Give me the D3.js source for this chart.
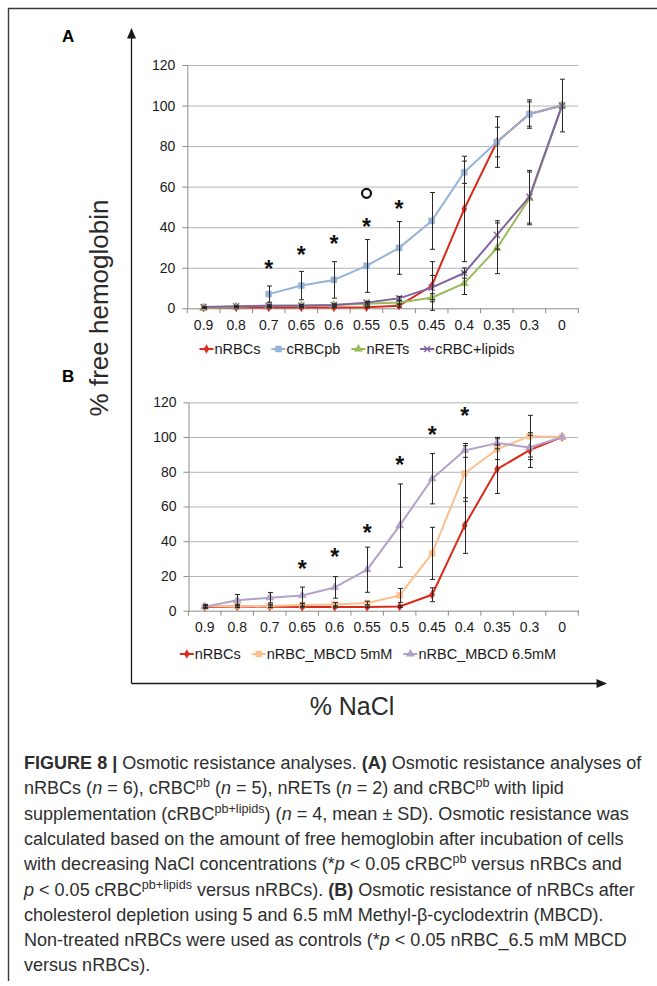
<!DOCTYPE html>
<html>
<head>
<meta charset="UTF-8">
<title>Osmotic resistance</title>
<script src="https://cdnjs.cloudflare.com/ajax/libs/d3/7.8.5/d3.min.js"></script>
<style>
  body { margin: 0; background: #fff; }
  svg { display: block; font-family: "Liberation Sans", Arial, sans-serif; }
  .tick text { fill: #1a1a1a; }
</style>
</head>
<body>
<svg id="fig" width="657" height="986"></svg>
<script>
// ---- data ----
const nacl = ['0.9', '0.8', '0.7', '0.65', '0.6', '0.55', '0.5', '0.45', '0.4', '0.35', '0.3', '0'];
const yTicks = [0, 20, 40, 60, 80, 100, 120];

// panel A
const nRBCsA      = [0.3, 0.4, 0.4, 0.4, 0.4, 0.5, 1.3, 11, 49, 82, 95.8, 100];
const nRBCsAErr   = [0.2, 0.2, 0.2, 0.2, 0.2, 0.3, 0.8, 12, 26, 7.3, 6, 0];
const cRBCpbA     = [null, null, 7, 11.2, 14, 20.9, 29.8, 43.1, 67.1, 82, 95.8, 100];
const cRBCpbAErr  = [null, null, 4, 7, 9, 13, 13, 14, 5.5, 12.5, 7, 13];
const nRETsA      = [0.2, 0.8, 1.3, 1.4, 1.6, 2.2, 2.9, 5.2, 12.3, 29.6, 54.2, 100];
const nRETsAErr   = [0.2, 0.3, 0.4, 0.4, 0.5, 0.6, 0.8, 2, 5.5, 12.5, 13, 0];
const lipidsA     = [0.6, 1.0, 1.2, 1.3, 1.6, 2.8, 4.9, 10.2, 17.4, 36.2, 55, 100];
const lipidsAErr  = [0.2, 0.3, 0.4, 0.4, 0.5, 0.6, 1, 6, 2.5, 7, 13, 0];
const starsA      = [['0.7', 22.2], ['0.65', 28.8], ['0.6', 34.2], ['0.55', 42.7], ['0.5', 51.8]];
const circlesA    = [['0.55', 56.7]];

// panel B
const nRBCsB      = [2.2, 2.4, 2.3, 2.2, 2.2, 2.2, 2.4, 9.2, 49, 81.5, 92.5, 100];
const nRBCsBErr   = [0.5, 0.5, 0.5, 0.5, 0.5, 0.5, 0.5, 4, 16, 14, 10, 0];
const mbcd5B      = [2.5, 2.7, 2.7, 3.3, 3.6, 4.4, 8.8, 33, 79, 93, 100.5, 100];
const mbcd5BErr   = [1, 1, 1, 1, 1, 1, 4, 15, 16, 6, 12, 0];
const mbcd65B     = [2.3, 6, 7.5, 8.8, 13.4, 23.6, 49, 76, 92.3, 96.5, 94, 100];
const mbcd65BErr  = [0.8, 3.3, 3, 4.8, 6.2, 13, 24, 14.5, 4, 3.3, 7, 0];
const starsB      = [['0.65', 27.3], ['0.6', 34], ['0.55', 47.8], ['0.5', 86.8], ['0.45', 104.6], ['0.4', 115]];

const captionLines = [
  [['FIGURE 8 |', 'b'], [' Osmotic resistance analyses. ', ''], ['(A)', 'b'], [' Osmotic resistance analyses of', '']],
  [['nRBCs (', ''], ['n', 'i'], [' = 6), cRBC', ''], ['pb', 'sup'], [' (', ''], ['n', 'i'], [' = 5), nRETs (', ''], ['n', 'i'], [' = 2) and cRBC', ''], ['pb', 'sup'], [' with lipid', '']],
  [['supplementation (cRBC', ''], ['pb+lipids', 'sup'], [') (', ''], ['n', 'i'], [' = 4, mean \u00b1 SD). Osmotic resistance was', '']],
  [['calculated based on the amount of free hemoglobin after incubation of cells', '']],
  [['with decreasing NaCl concentrations (*', ''], ['p', 'i'], [' < 0.05 cRBC', ''], ['pb', 'sup'], [' versus nRBCs and', '']],
  [['p', 'i'], [' < 0.05 cRBC', ''], ['pb+lipids', 'sup'], [' versus nRBCs). ', ''], ['(B)', 'b'], [' Osmotic resistance of nRBCs after', '']],
  [['cholesterol depletion using 5 and 6.5 mM Methyl-\u03b2-cyclodextrin (MBCD).', '']],
  [['Non-treated nRBCs were used as controls (*', ''], ['p', 'i'], [' < 0.05 nRBC_6.5 mM MBCD', '']],
  [['versus nRBCs).', '']]
];

// ---- series setup ----
const panels = [
  {
    label: 'A', labelY: 42,
    xl: 187.3, xr: 578.3, y0: 308.3, yTop: 65,
    legendY: 349, legendCx: 357,
    series: [
      { name: 'nRBCs', values: nRBCsA, err: nRBCsAErr, color: '#d92a1c', marker: 'diamond' },
      { name: 'cRBCpb', values: cRBCpbA, err: cRBCpbAErr, color: '#95b3d7', marker: 'square' },
      { name: 'nRETs', values: nRETsA, err: nRETsAErr, color: '#9bbb59', marker: 'triangle' },
      { name: 'cRBC+lipids', values: lipidsA, err: lipidsAErr, color: '#8064a2', marker: 'x' }
    ],
    stars: starsA, circles: circlesA
  },
  {
    label: 'B', labelY: 382,
    xl: 188.5, xr: 578.3, y0: 610.7, yTop: 402.3,
    legendY: 654, legendCx: 368,
    series: [
      { name: 'nRBCs', values: nRBCsB, err: nRBCsBErr, color: '#d92a1c', marker: 'diamond' },
      { name: 'nRBC_MBCD 5mM', values: mbcd5B, err: mbcd5BErr, color: '#fac08f', marker: 'square' },
      { name: 'nRBC_MBCD 6.5mM', values: mbcd65B, err: mbcd65BErr, color: '#b3a2c7', marker: 'triangle' }
    ],
    stars: starsB, circles: []
  }
];

const svg = d3.select('#fig');

// outer frame (top and left edges)
svg.append('path')
  .attr('d', 'M8.5,981 V8.5 H657')
  .attr('fill', 'none').attr('stroke', '#3a3a3a').attr('stroke-width', 1.4);

// big axes with arrows
const axX = 131.5, axBottom = 683.5;
svg.append('path')
  .attr('d', `M${axX},${axBottom} V37 M${axX},${axBottom} H598`)
  .attr('fill', 'none').attr('stroke', '#1a1a1a').attr('stroke-width', 1.3);
svg.append('path').attr('d', `M${axX},28 L${axX - 4.5},38.5 L${axX + 4.5},38.5 Z`).attr('fill', '#1a1a1a');
svg.append('path').attr('d', `M607,${axBottom} L596.5,${axBottom - 4.5} L596.5,${axBottom + 4.5} Z`).attr('fill', '#1a1a1a');

svg.append('text')
  .attr('transform', 'translate(108,308) rotate(-90)')
  .attr('text-anchor', 'middle')
  .style('font-size', '26px').attr('fill', '#2a2a2a')
  .text('% free hemoglobin');
svg.append('text')
  .attr('x', 352).attr('y', 715)
  .attr('text-anchor', 'middle')
  .style('font-size', '25px').attr('fill', '#2a2a2a')
  .text('% NaCl');

function markerPath(type) {
  if (type === 'diamond') return d3.symbol(d3.symbolDiamond, 22)();
  if (type === 'square') return d3.symbol(d3.symbolSquare, 36)();
  if (type === 'triangle') return d3.symbol(d3.symbolTriangle, 28)();
  return d3.symbol(d3.symbolX, 26)();
}

function drawMarker(sel, s) {
  sel.attr('d', markerPath(s.marker))
    .attr('fill', s.marker === 'x' ? 'none' : s.color)
    .attr('stroke', s.color)
    .attr('stroke-width', s.marker === 'x' ? 1.4 : 0.5);
}

function drawPanel(p) {
  const g = svg.append('g');
  const x = d3.scaleBand().domain(nacl).range([p.xl, p.xr]);
  const cx = c => x(c) + x.bandwidth() / 2;
  const y = d3.scaleLinear().domain([0, 120]).range([p.y0, p.yTop]);

  g.append('text')
    .attr('x', 62).attr('y', p.labelY)
    .style('font-size', '17px').style('font-weight', 'bold')
    .text(p.label);

  // gridlines
  g.append('g').selectAll('line')
    .data(yTicks.filter(t => t > 0))
    .join('line')
    .attr('x1', p.xl).attr('x2', p.xr)
    .attr('y1', d => y(d) + 0.5).attr('y2', d => y(d) + 0.5)
    .attr('stroke', '#b4b4b4').attr('stroke-width', 1);

  // y axis
  const ya = g.append('g')
    .attr('transform', `translate(${p.xl},0)`)
    .call(d3.axisLeft(y).tickValues(yTicks).tickSize(5).tickPadding(7).tickSizeOuter(0));
  ya.select('.domain').attr('stroke', '#8c8c8c');
  ya.selectAll('.tick line').attr('stroke', '#8c8c8c');
  ya.selectAll('.tick text').style('font-size', '14px').style('font-family', '"Liberation Sans", Arial, sans-serif');

  // x axis: labels at band centres, ticks at band edges
  const xa = g.append('g')
    .attr('transform', `translate(0,${p.y0})`)
    .call(d3.axisBottom(x).tickSize(0).tickPadding(11.5));
  xa.select('.domain').attr('stroke', '#8c8c8c');
  xa.selectAll('.tick text').style('font-size', '14px').style('font-family', '"Liberation Sans", Arial, sans-serif');
  const edges = nacl.map(c => x(c)).concat([p.xr]);
  g.append('g').selectAll('line')
    .data(edges)
    .join('line')
    .attr('x1', d => d).attr('x2', d => d)
    .attr('y1', p.y0).attr('y2', p.y0 + 5)
    .attr('stroke', '#8c8c8c');

  // series lines and markers
  const line = d3.line()
    .defined(d => d.v != null)
    .x(d => cx(d.c)).y(d => y(d.v));
  p.series.forEach(s => {
    const pts = nacl.map((c, i) => ({ c, v: s.values[i], e: s.err[i] }));
    g.append('path')
      .datum(pts)
      .attr('d', line)
      .attr('fill', 'none').attr('stroke', s.color).attr('stroke-width', 2)
      .attr('stroke-linejoin', 'round');
    g.append('g').selectAll('path')
      .data(pts.filter(d => d.v != null))
      .join('path')
      .attr('transform', d => `translate(${cx(d.c)},${y(d.v)})`)
      .call(drawMarker, s);
  });

  // error bars
  p.series.forEach(s => {
    const pts = nacl.map((c, i) => ({ c, v: s.values[i], e: s.err[i] }))
      .filter(d => d.v != null && d.e);
    const eb = g.append('g').attr('stroke', '#262626').attr('stroke-width', 1).attr('fill', 'none');
    eb.selectAll('path')
      .data(pts)
      .join('path')
      .attr('d', d => {
        const xc = Math.round(cx(d.c)) + 0.5, hi = y(d.v + d.e), lo = y(d.v - d.e);
        return `M${xc},${hi}V${lo}M${xc - 2.5},${hi}H${xc + 2.5}M${xc - 2.5},${lo}H${xc + 2.5}`;
      });
  });

  // significance marks
  g.append('g').selectAll('text')
    .data(p.stars)
    .join('text')
    .attr('x', d => cx(d[0])).attr('y', d => y(d[1]) + 13.5)
    .attr('text-anchor', 'middle')
    .style('font-size', '23px').style('font-weight', 'bold').attr('fill', '#111')
    .text('*');
  g.append('g').selectAll('circle')
    .data(p.circles)
    .join('circle')
    .attr('cx', d => cx(d[0])).attr('cy', d => y(d[1]))
    .attr('r', 4.5)
    .attr('fill', 'none').attr('stroke', '#111').attr('stroke-width', 2.2);

  // legend
  const lg = g.append('g').attr('transform', `translate(0,${p.legendY})`);
  let cursor = 0;
  p.series.forEach(s => {
    const it = lg.append('g');
    it.append('line').attr('x1', 0).attr('x2', 14).attr('stroke', s.color).attr('stroke-width', 2);
    it.append('path').attr('transform', 'translate(7,0)').call(drawMarker, s);
    const t = it.append('text').attr('x', 15).attr('dy', '0.35em')
      .style('font-size', '14.5px').attr('fill', '#1a1a1a').text(s.name);
    const w = 15 + t.node().getComputedTextLength();
    it.attr('transform', `translate(${cursor},0)`);
    cursor += w + 11;
  });
  const total = cursor - 11;
  lg.attr('transform', `translate(${p.legendCx - total / 2},${p.legendY})`);
}

panels.forEach(drawPanel);

// caption
const cap = svg.append('g').attr('fill', '#2e2e2e').style('font-size', '16px');
captionLines.forEach((segs, li) => {
  const t = cap.append('text').attr('x', 24).attr('y', 769 + li * 25.3);
  let raised = false;
  segs.forEach(([txt, st]) => {
    const ts = t.append('tspan').text(txt);
    if (st === 'b') ts.style('font-weight', 'bold');
    if (st === 'i') ts.style('font-style', 'italic');
    if (st === 'sup') {
      ts.style('font-size', '0.7em').attr('dy', '-0.55em');
      raised = true;
    } else if (raised) {
      ts.attr('dy', '0.385em');
      raised = false;
    }
  });
});
// fit the first caption line to its width in the figure
const firstW = cap.select('text').node().getComputedTextLength();
cap.style('font-size', (16 * 618 / firstW).toFixed(2) + 'px');
</script>
</body>
</html>
